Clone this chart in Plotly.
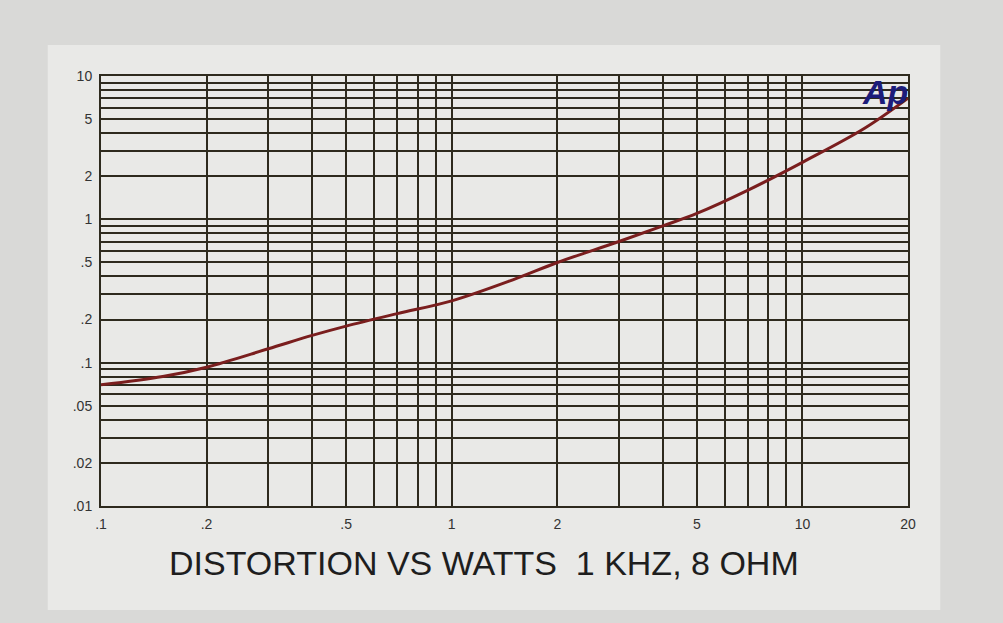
import plotly.graph_objects as go

# Data
watts = [0.1, 0.15, 0.2, 0.3, 0.4, 0.5, 0.7, 1, 1.5, 2, 3, 4, 5, 7, 10, 15, 20]
thd_pct = [0.07, 0.08, 0.093, 0.125, 0.155, 0.18, 0.22, 0.27, 0.38, 0.5, 0.7, 0.9, 1.1, 1.6, 2.5, 4.3, 7.0]

x_tick_vals = [0.1, 0.2, 0.5, 1, 2, 5, 10, 20]
x_tick_text = [".1", ".2", ".5", "1", "2", "5", "10", "20"]
y_tick_vals = [0.01, 0.02, 0.05, 0.1, 0.2, 0.5, 1, 2, 5, 10]
y_tick_text = [".01", ".02", ".05", ".1", ".2", ".5", "1", "2", "5", "10"]

x_minor = [m * d for d in (0.1, 1, 10) for m in range(1, 10) if m * d <= 20]
y_minor = [m * d for d in (0.01, 0.1, 1) for m in range(1, 10)] + [10]

title = "DISTORTION VS WATTS  1 KHZ, 8 OHM"

grid_col = "#2e2a1e"

fig = go.Figure()
fig.add_trace(go.Scatter(
    x=watts, y=thd_pct, mode="lines",
    line=dict(color="#7a1e1e", width=3, shape="spline"),
    showlegend=False, hoverinfo="skip"))

axis_common = dict(
    type="log", showline=True, linecolor=grid_col, linewidth=2, mirror=True,
    showgrid=True, gridcolor=grid_col, gridwidth=1.5,
    ticks="", zeroline=False,
    tickfont=dict(family="Liberation Sans, Arial", size=14, color="#333"),
)

fig.update_xaxes(**axis_common, range=[-1, 1.30103],
                 tickmode="array", tickvals=x_tick_vals, ticktext=x_tick_text,
                 ticklabelstandoff=4,
                 minor=dict(tickmode="array", tickvals=x_minor, showgrid=True,
                            gridcolor=grid_col, gridwidth=1.5, ticks=""))
fig.update_yaxes(**axis_common, range=[-2, 1],
                 tickmode="array", tickvals=y_tick_vals, ticktext=y_tick_text,
                 ticklabelstandoff=4,
                 minor=dict(tickmode="array", tickvals=y_minor, showgrid=True,
                            gridcolor=grid_col, gridwidth=1.5, ticks=""))

fig.add_shape(type="rect", xref="paper", yref="paper",
              x0=-0.066, x1=1.04, y0=-0.242, y1=1.072,
              fillcolor="#e9e9e7", line=dict(width=0), layer="below")

fig.add_annotation(text="<b><i>Ap</i></b>", xref="paper", yref="paper",
                   x=0.972, y=0.963, xanchor="center", yanchor="middle",
                   showarrow=False,
                   font=dict(family="Liberation Sans, Arial", size=34, color="#1c1c7a"))

fig.add_annotation(text=title, xref="paper", yref="paper",
                   x=0.475, y=-0.133, showarrow=False, yanchor="middle",
                   font=dict(family="Liberation Sans, Arial", size=34, color="#1e1e1e"))

fig.update_layout(
    width=1003, height=623,
    margin=dict(l=101, r=95, t=76, b=117),
    paper_bgcolor="#d9d9d7", plot_bgcolor="#ececea",
)

fig.write_html("out.html", config={"displayModeBar": False},
               post_script="document.body.style.margin='0';document.body.style.overflow='hidden';")
